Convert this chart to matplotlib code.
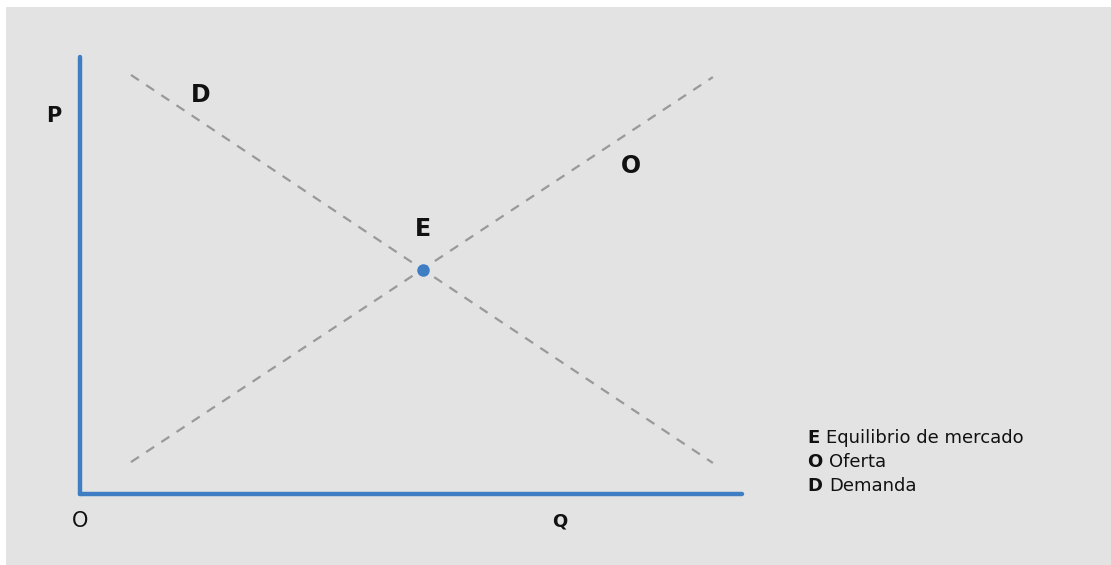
import matplotlib
matplotlib.use("Agg")
import matplotlib.pyplot as plt
from matplotlib.patches import Rectangle

plt.rcParams['font.family'] = ['DejaVu Sans']

# Data (quantity Q, price P)
demand_q = [0.77, 9.56]
demand_p = [9.59, 0.71]
supply_q = [0.77, 9.56]
supply_p = [0.73, 9.54]
eq_q = [5.18]
eq_p = [5.13]

legend_keys = ["E", "O", "D"]
legend_texts = ["Equilibrio de mercado", "Oferta", "Demanda"]

BLUE = "#3f7ec3"
GRAY = "#999999"
BG = "#e3e3e3"

W, H = 1111, 565
fig = plt.figure(figsize=(W / 100, H / 100), dpi=100, facecolor="white")
fig.patches.append(Rectangle((6 / W, 0), 1 - 6 / W, 1 - 7 / H,
                             transform=fig.transFigure, facecolor=BG,
                             edgecolor="none", zorder=-10))

ax = fig.add_axes([80 / W, (H - 494) / H, 662 / W, 437 / H])
ax.set_zorder(1)
ax.set_facecolor("none")
ax.set_xlim(0, 10)
ax.set_ylim(0, 10)
for s in ["top", "right"]:
    ax.spines[s].set_visible(False)
for s in ["left", "bottom"]:
    ax.spines[s].set_color(BLUE)
    ax.spines[s].set_linewidth(3.2)
    ax.spines[s].set_capstyle("round")
ax.set_xticks([])
ax.set_yticks([])

ax.plot(demand_q, demand_p, color=GRAY, lw=1.6, dashes=(4.3, 3.9),
        clip_on=False)
ax.plot(supply_q, supply_p, color=GRAY, lw=1.6, dashes=(4.3, 3.9),
        clip_on=False)
ax.plot(eq_q, eq_p, 'o', color=BLUE, markersize=8, clip_on=False, zorder=5)

big = dict(fontsize=17, fontweight="bold", color="#111111",
           ha="center", va="center", clip_on=False)
ax.text(1.83, 9.13, "D", **big)
ax.text(8.32, 7.51, "O", **big)
ax.text(5.18, 6.06, "E", **big)
ax.text(-0.39, 8.65, "P", fontsize=15, fontweight="bold", color="#111111",
        ha="center", va="center", clip_on=False)
ax.text(0.0, -0.62, "O", fontsize=15, color="#111111", ha="center",
        va="center", clip_on=False)
ax.text(7.24, -0.64, "Q", fontsize=13, fontweight="bold", color="#111111",
        ha="center", va="center", clip_on=False)

ys = [1.28, 0.73, 0.18]
for k, t, y in zip(legend_keys, legend_texts, ys):
    kt = ax.text(10.98, y, k, fontsize=13, fontweight="bold",
                 color="#111111", ha="left", va="center", clip_on=False)
    ax.annotate(t, xy=(1, 0.5), xycoords=kt, xytext=(5, 0),
                textcoords="offset points", fontsize=13, color="#111111",
                ha="left", va="center", annotation_clip=False)

fig.savefig("out.png", dpi=100, facecolor="white")
